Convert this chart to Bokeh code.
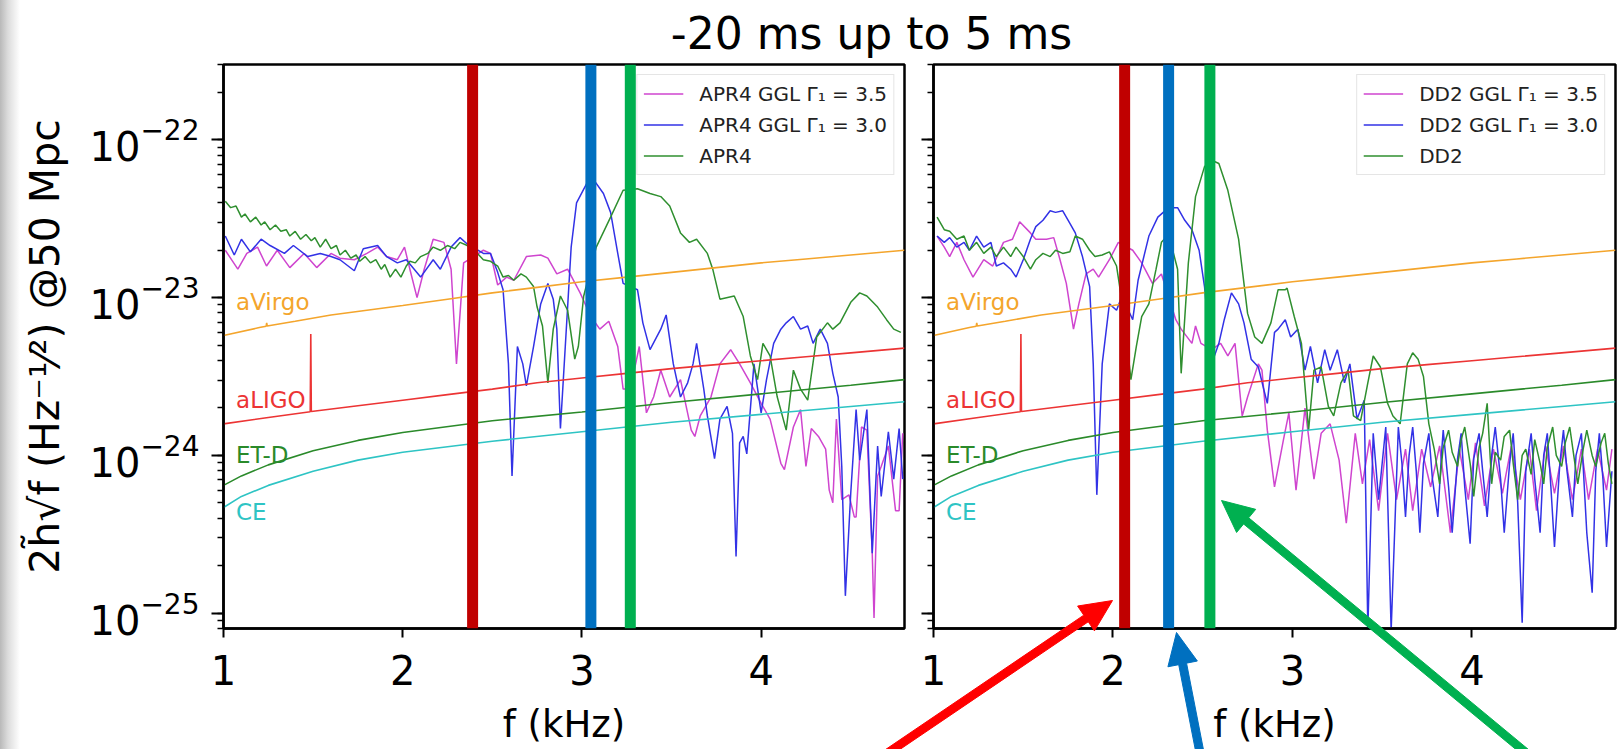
import math
from bokeh.plotting import figure
from bokeh.models import (Range1d, FixedTicker, LogTicker, Span, Legend, LegendItem, GridBox)
from bokeh.embed import file_html
from bokeh.resources import INLINE
from bokeh.core.properties import value

FONT = "DejaVu Sans"

# ---------------- data (frequency in kHz, log10 of 2*h*sqrt(f) at 50 Mpc) -------------
apr4_f = [1.01,1.04,1.07,1.10,1.12,1.15,1.18,1.21,1.23,1.26,1.29,1.32,1.35,1.37,1.40,1.43,1.46,1.49,1.51,1.54,
          1.57,1.60,1.63,1.65,1.68,1.71,1.74,1.76,1.79,1.82,1.85,1.88,1.90,1.93,1.96,1.99,2.02,2.04,2.07,2.10,
          2.14,2.17,2.21,2.25,2.29,2.32,2.36,2.40,2.45,2.49,2.53,2.56,2.59,2.62,2.66,2.69,2.73,2.75,2.78,2.81,
          2.84,2.88,2.92,2.96,2.98,3.01,3.08,3.16,3.23,3.31,3.38,3.44,3.49,3.55,3.60,3.64,3.70,3.73,3.77,3.85,
          3.90,3.94,3.98,4.01,4.05,4.09,4.14,4.18,4.22,4.26,4.31,4.37,4.40,4.44,4.50,4.55,4.59,4.65,4.70,4.74,4.78]
apr4_log10h = [-22.39,-22.43,-22.42,-22.49,-22.47,-22.52,-22.49,-22.54,-22.52,-22.57,-22.54,-22.58,-22.57,-22.61,-22.58,-22.63,-22.60,-22.64,-22.62,-22.68,
               -22.63,-22.69,-22.67,-22.73,-22.70,-22.75,-22.73,-22.77,-22.74,-22.78,-22.76,-22.82,-22.79,-22.87,-22.82,-22.87,-22.80,-22.77,-22.78,-22.74,
               -22.72,-22.68,-22.70,-22.67,-22.69,-22.65,-22.67,-22.70,-22.76,-22.77,-22.80,-22.87,-22.86,-22.89,-22.85,-22.87,-22.93,-23.06,-23.18,-23.54,
               -23.20,-22.99,-23.08,-23.39,-23.31,-22.99,-22.68,-22.49,-22.32,-22.31,-22.34,-22.36,-22.42,-22.59,-22.65,-22.63,-22.72,-22.82,-23.01,-22.99,
               -23.12,-23.37,-23.52,-23.29,-23.37,-23.63,-23.84,-23.46,-23.58,-23.65,-23.25,-23.16,-23.20,-23.16,-23.03,-22.97,-22.99,-23.06,-23.14,-23.20,-23.22]

apr4_g30_f = [1.01,1.06,1.10,1.15,1.21,1.26,1.34,1.39,1.47,1.54,1.60,1.65,1.73,1.78,1.86,1.91,1.97,2.02,2.10,2.17,
              2.21,2.27,2.32,2.36,2.45,2.49,2.53,2.56,2.59,2.61,2.64,2.67,2.69,2.73,2.77,2.81,2.84,2.86,2.88,2.94,
              2.97,3.03,3.07,3.12,3.16,3.20,3.23,3.27,3.31,3.34,3.38,3.44,3.47,3.51,3.55,3.59,3.62,3.64,3.68,3.70,
              3.74,3.77,3.81,3.84,3.86,3.88,3.90,3.92,3.96,4.00,4.03,4.07,4.11,4.14,4.18,4.22,4.26,4.29,4.33,4.37,
              4.40,4.43,4.45,4.47,4.50,4.53,4.55,4.59,4.62,4.65,4.67,4.71,4.74,4.77,4.79]
apr4_g30_log10h = [-22.61,-22.73,-22.63,-22.71,-22.63,-22.67,-22.72,-22.67,-22.74,-22.72,-22.74,-22.76,-22.83,-22.69,-22.67,-22.74,-22.78,-22.76,-22.87,-22.76,
                   -22.82,-22.68,-22.62,-22.66,-22.72,-22.72,-22.84,-22.95,-23.42,-24.13,-23.31,-23.42,-23.56,-23.31,-23.04,-22.91,-23.01,-23.20,-23.83,-22.68,
                   -22.40,-22.27,-22.26,-22.34,-22.46,-22.72,-22.91,-22.93,-22.95,-23.16,-23.33,-23.20,-23.11,-23.42,-23.63,-23.54,-23.42,-23.29,-23.58,-23.75,
                   -24.02,-23.77,-23.69,-23.86,-24.64,-23.92,-23.88,-23.99,-23.42,-23.73,-23.52,-23.29,-23.20,-23.16,-23.12,-23.20,-23.18,-23.29,-23.20,-23.29,
                   -23.48,-23.63,-24.07,-24.89,-24.24,-23.71,-24.03,-23.71,-24.62,-23.94,-24.26,-23.85,-24.15,-23.83,-24.15]

apr4_g35_f = [1.01,1.08,1.13,1.19,1.24,1.30,1.37,1.45,1.52,1.60,1.65,1.73,1.80,1.86,1.91,1.97,2.01,2.04,2.08,2.12,
              2.17,2.23,2.27,2.30,2.34,2.45,2.49,2.53,2.58,2.62,2.69,2.77,2.81,2.86,2.92,2.99,3.05,3.10,3.15,3.20,
              3.23,3.27,3.32,3.36,3.40,3.44,3.49,3.55,3.61,3.63,3.66,3.72,3.77,3.83,3.88,3.94,4.00,4.05,4.11,4.13,
              4.18,4.22,4.25,4.28,4.32,4.36,4.38,4.40,4.42,4.45,4.49,4.52,4.53,4.56,4.59,4.62,4.63,4.65,4.67,4.71,
              4.75,4.77,4.79]
apr4_g35_log10h = [-22.70,-22.82,-22.72,-22.68,-22.80,-22.70,-22.81,-22.72,-22.81,-22.72,-22.75,-22.76,-22.72,-22.68,-22.74,-22.76,-22.68,-22.82,-23.00,-22.82,
                   -22.63,-22.65,-22.82,-23.42,-22.78,-22.70,-22.72,-22.92,-22.87,-22.89,-22.74,-22.73,-22.75,-22.85,-22.82,-22.97,-23.12,-23.20,-23.15,-23.31,
                   -23.58,-23.58,-23.31,-23.73,-23.63,-23.46,-23.63,-23.52,-23.84,-23.88,-23.75,-23.63,-23.42,-23.33,-23.42,-23.54,-23.67,-23.77,-24.05,-24.09,
                   -23.82,-23.71,-24.07,-23.83,-23.88,-23.96,-24.22,-24.30,-23.77,-24.28,-24.25,-24.39,-24.39,-23.82,-23.84,-24.62,-25.03,-24.13,-24.07,-23.94,
                   -24.35,-24.35,-23.86]

dd2_f = [1.02,1.06,1.09,1.13,1.17,1.20,1.24,1.28,1.32,1.35,1.39,1.43,1.46,1.50,1.54,1.57,1.61,1.65,1.68,1.72,
         1.76,1.79,1.83,1.87,1.90,1.94,1.98,2.02,2.06,2.10,2.13,2.16,2.20,2.24,2.27,2.31,2.36,2.38,2.42,2.46,
         2.51,2.55,2.59,2.64,2.70,2.75,2.79,2.83,2.88,2.92,2.96,2.97,3.01,3.05,3.09,3.12,3.16,3.20,3.23,3.27,
         3.31,3.34,3.38,3.42,3.45,3.49,3.53,3.56,3.60,3.64,3.67,3.70,3.73,3.76,3.79,3.82,3.84,3.87,3.89,3.92,
         3.94,3.96,3.99,4.01,4.04,4.06,4.085,4.11,4.13,4.16,4.18,4.21,4.23,4.255,4.28,4.30,4.33,4.35,4.38,4.40,
         4.42,4.45,4.47,4.50,4.52,4.545,4.57,4.59,4.62,4.64,4.67,4.69,4.72,4.74,4.76,4.78]
dd2_log10h = [-22.49,-22.57,-22.58,-22.63,-22.61,-22.70,-22.65,-22.72,-22.68,-22.74,-22.68,-22.74,-22.68,-22.74,-22.82,-22.76,-22.72,-22.74,-22.70,-22.72,
              -22.71,-22.61,-22.63,-22.70,-22.74,-22.73,-22.71,-22.80,-23.10,-23.52,-23.31,-23.12,-23.04,-22.82,-22.65,-22.60,-22.82,-23.48,-22.78,-22.36,
              -22.17,-22.13,-22.15,-22.32,-22.63,-23.10,-23.25,-23.29,-23.16,-22.95,-22.95,-22.94,-23.12,-23.29,-23.84,-23.46,-23.44,-23.69,-23.75,-23.54,
              -23.46,-23.75,-23.78,-23.54,-23.37,-23.44,-23.67,-23.75,-23.80,-23.42,-23.35,-23.39,-23.50,-23.80,-23.96,-24.18,-23.95,-23.84,-23.98,-24.07,
              -23.90,-23.82,-24.05,-24.26,-23.95,-23.86,-23.67,-24.18,-23.98,-24.03,-23.88,-23.84,-24.05,-24.28,-24.00,-23.96,-24.12,-23.90,-24.05,-24.18,
              -23.95,-23.82,-24.00,-24.07,-23.92,-23.82,-24.02,-24.18,-23.96,-23.84,-24.00,-24.07,-23.92,-23.86,-24.05,-24.18]

dd2_g30_f = [1.02,1.06,1.09,1.13,1.17,1.20,1.24,1.28,1.32,1.35,1.39,1.43,1.46,1.50,1.54,1.57,1.61,1.65,1.68,1.72,
             1.76,1.79,1.83,1.87,1.89,1.91,1.94,1.98,2.02,2.05,2.11,2.14,2.20,2.25,2.31,2.36,2.40,2.44,2.48,2.51,
             2.55,2.59,2.62,2.66,2.70,2.73,2.77,2.81,2.84,2.86,2.90,2.92,2.96,2.99,3.03,3.07,3.10,3.14,3.18,3.21,
             3.25,3.29,3.32,3.36,3.40,3.42,3.45,3.48,3.50,3.52,3.55,3.59,3.61,3.63,3.65,3.67,3.69,3.71,3.73,3.76,
             3.78,3.81,3.83,3.84,3.87,3.89,3.92,3.94,3.96,3.99,4.01,4.04,4.06,4.085,4.11,4.13,4.16,4.18,4.21,4.23,
             4.255,4.28,4.30,4.33,4.35,4.38,4.40,4.42,4.44,4.46,4.49,4.51,4.53,4.56,4.58,4.61,4.64,4.67,4.69,4.71,
             4.73,4.75,4.78]
dd2_g30_log10h = [-22.61,-22.65,-22.62,-22.68,-22.65,-22.70,-22.61,-22.68,-22.65,-22.80,-22.78,-22.82,-22.87,-22.76,-22.63,-22.55,-22.51,-22.45,-22.46,-22.45,
                  -22.53,-22.59,-22.74,-22.93,-23.42,-24.25,-23.42,-23.04,-23.08,-22.99,-23.14,-22.89,-22.61,-22.49,-22.43,-22.43,-22.51,-22.57,-22.70,-22.93,
                  -23.42,-23.29,-23.14,-22.97,-23.04,-23.16,-23.39,-23.44,-23.58,-23.67,-23.22,-23.20,-23.14,-23.25,-23.20,-23.46,-23.31,-23.54,-23.33,-23.46,
                  -23.33,-23.54,-23.42,-23.77,-23.65,-25.10,-23.86,-24.28,-24.05,-23.82,-25.11,-23.82,-24.05,-24.39,-24.00,-23.82,-24.10,-24.49,-24.05,-23.86,
                  -24.15,-24.39,-24.00,-23.84,-24.20,-24.49,-24.02,-23.86,-24.20,-24.56,-24.02,-23.86,-24.10,-24.39,-24.00,-23.82,-24.15,-24.49,-24.05,-23.86,
                  -24.30,-25.06,-24.10,-23.86,-24.15,-24.49,-24.00,-23.86,-24.20,-24.58,-24.05,-23.84,-24.10,-24.39,-24.00,-23.86,-24.49,-24.87,-24.10,-23.86,
                  -24.15,-24.58,-24.10]

dd2_g35_f = [1.02,1.06,1.09,1.13,1.17,1.22,1.28,1.33,1.39,1.44,1.48,1.54,1.57,1.63,1.67,1.70,1.74,1.78,1.81,1.85,
             1.89,1.92,1.98,2.03,2.11,2.16,2.22,2.27,2.35,2.38,2.44,2.46,2.49,2.55,2.60,2.64,2.68,2.72,2.75,2.81,
             2.83,2.86,2.90,2.95,2.98,3.02,3.07,3.12,3.16,3.21,3.26,3.30,3.35,3.39,3.43,3.48,3.53,3.58,3.63,3.67,
             3.72,3.77,3.82,3.88,3.93,3.98,4.02,4.07,4.12,4.17,4.22,4.27,4.32,4.36,4.41,4.46,4.51,4.56,4.61,4.65,
             4.70,4.75,4.78]
dd2_g35_log10h = [-22.61,-22.68,-22.74,-22.65,-22.76,-22.87,-22.76,-22.80,-22.65,-22.63,-22.52,-22.59,-22.63,-22.63,-22.62,-22.74,-22.91,-23.20,-23.04,-22.85,
                  -22.82,-22.87,-22.76,-22.65,-22.70,-22.78,-22.91,-22.85,-23.14,-23.20,-23.29,-23.18,-23.29,-23.33,-23.29,-23.37,-23.29,-23.75,-23.63,-23.42,
                  -23.46,-23.84,-24.20,-23.90,-23.73,-24.22,-23.70,-24.15,-23.86,-23.80,-24.03,-24.43,-23.86,-24.18,-23.90,-24.35,-23.86,-24.28,-23.96,-24.35,
                  -23.96,-24.20,-23.94,-24.49,-23.96,-24.28,-23.92,-24.32,-23.96,-24.24,-23.94,-24.28,-23.96,-24.35,-23.94,-24.24,-23.94,-24.28,-23.96,-24.28,
                  -23.96,-24.22,-23.96]

# detector sensitivity curves
avirgo_f = [1.0, 1.2, 1.238, 1.241, 1.244, 1.4, 1.6, 1.8, 2.0, 2.25, 2.5, 2.75, 3.0, 3.25, 3.5, 3.75, 4.0, 4.25, 4.5, 4.8]
avirgo_log10h = [-23.24, -23.19, -23.181, -23.16, -23.180, -23.15, -23.11, -23.08, -23.05, -23.01, -22.97, -22.935, -22.90, -22.87, -22.84, -22.81, -22.78, -22.755, -22.73, -22.70]
aligo_f = [1.0, 1.25, 1.484, 1.487, 1.490, 1.75, 2.0, 2.25, 2.5, 2.75, 3.0, 3.25, 3.5, 3.75, 4.0, 4.25, 4.5, 4.8]
aligo_log10h = [-23.80, -23.76, -23.723, -23.23, -23.722, -23.685, -23.65, -23.615, -23.58, -23.54, -23.51, -23.48, -23.45, -23.425, -23.40, -23.375, -23.35, -23.32]
etd_f = [1.0, 1.1, 1.25, 1.5, 1.75, 2.0, 2.5, 3.0, 3.5, 4.0, 4.5, 4.8]
etd_log10h = [-24.19, -24.13, -24.06, -23.97, -23.905, -23.855, -23.78, -23.725, -23.665, -23.61, -23.555, -23.52]
ce_f = [1.0, 1.1, 1.25, 1.5, 1.75, 2.0, 2.5, 3.0, 3.5, 4.0, 4.5, 4.8]
ce_log10h = [-24.33, -24.26, -24.19, -24.10, -24.03, -23.98, -23.91, -23.85, -23.79, -23.74, -23.69, -23.66]

detector_names = ["aVirgo", "aLIGO", "ET-D", "CE"]
detector_label_f = [1.07, 1.07, 1.07, 1.07]
detector_label_log10h = [-23.03, -23.65, -24.00, -24.36]

apr4_labels = ["APR4 GGL Γ₁ = 3.5", "APR4 GGL Γ₁ = 3.0", "APR4"]
dd2_labels = ["DD2 GGL Γ₁ = 3.5", "DD2 GGL Γ₁ = 3.0", "DD2"]
apr4_markers_f = [2.39, 3.05, 3.27]
dd2_markers_f = [2.065, 2.31, 2.54]

x_ticks = [1, 2, 3, 4]
x_range = (1.0, 4.8)
y_range = (8e-26, 3e-22)

title_text = "-20 ms up to 5 ms"
xlabel = "f (kHz)"
ylabel = "2h̃√f (Hz⁻¹⁄²) @50 Mpc"

# ---------------- style ----------------
C_MAG = "#cf45cf"
C_BLUE = "#3232e6"
C_GREEN = "#2f8f2f"
C_VIRGO = "#f4a52c"
C_LIGO = "#ec3434"
C_ETD = "#2a8a2a"
C_CE = "#2ec4c4"
BAR_COLORS = ["#C00000", "#0070C0", "#00B050"]

W, H = 1617, 749
FRAME_TOP = 64
FRAME_BOTTOM = 628
P1_W, P1_LEFT, P1_RIGHT = 918, 223, 14
P2_W, P2_LEFT, P2_RIGHT = W - P1_W, 15, 2


def pw(vals):
    return [10 ** v for v in vals]


def make_panel(series, labels, markers, show_ylabel, width, border_left, border_right):
    p = figure(width=width, height=H, x_range=Range1d(*x_range), y_range=Range1d(*y_range),
               y_axis_type="log", output_backend="svg", toolbar_location=None,
               min_border_left=border_left, min_border_right=border_right,
               min_border_top=FRAME_TOP, min_border_bottom=H - FRAME_BOTTOM)
    p.xgrid.visible = False
    p.ygrid.visible = False
    p.outline_line_color = "black"
    p.outline_line_width = 2.5
    p.background_fill_color = "white"
    p.border_fill_color = "white"

    p.xaxis.ticker = FixedTicker(ticks=x_ticks)
    p.yaxis.ticker = LogTicker(num_minor_ticks=10)
    for ax in (p.xaxis[0], p.yaxis[0]):
        ax.axis_line_color = "black"
        ax.axis_line_width = 2.5
        ax.major_tick_line_color = "black"
        ax.major_tick_line_width = 2
        ax.minor_tick_line_color = "black"
        ax.minor_tick_line_width = 1.5
        ax.major_tick_in = 0
        ax.minor_tick_in = 0
        ax.major_label_text_font = FONT
        ax.major_label_text_color = "black"
        ax.axis_label_text_font = FONT
        ax.axis_label_text_font_style = "normal"
        ax.axis_label_text_color = "black"
    p.xaxis.major_tick_out = 9
    p.xaxis.minor_tick_line_color = None
    p.xaxis.major_label_text_font_size = "40px"
    p.xaxis.major_label_standoff = 17
    p.xaxis.axis_label = xlabel
    p.xaxis.axis_label_text_font_size = "37px"
    p.xaxis.axis_label_standoff = 15
    p.yaxis.major_tick_out = 12
    p.yaxis.minor_tick_out = 6
    if show_ylabel:
        p.yaxis.major_label_text_font_size = "40px"
        p.yaxis.major_label_standoff = 12
        p.yaxis.axis_label = ylabel
        p.yaxis.axis_label_text_font_size = "41px"
        p.yaxis.axis_label_standoff = 18
    else:
        p.yaxis.major_label_text_font_size = "2px"
        p.yaxis.major_label_text_color = None
        p.yaxis.major_label_standoff = 0

    colors = [C_MAG, C_BLUE, C_GREEN]
    items = []
    for (fx, ly), lab, col in zip(series, labels, colors):
        r = p.line(fx, pw(ly), line_color=col, line_width=1.5)
        items.append(LegendItem(label=lab, renderers=[r]))

    for fx, ly, col in [(avirgo_f, avirgo_log10h, C_VIRGO), (aligo_f, aligo_log10h, C_LIGO),
                        (etd_f, etd_log10h, C_ETD), (ce_f, ce_log10h, C_CE)]:
        p.line(fx, pw(ly), line_color=col, line_width=1.6)
    p.text(x=detector_label_f, y=pw(detector_label_log10h), text=detector_names,
           text_color=[C_VIRGO, C_LIGO, C_ETD, C_CE], text_font=value(FONT),
           text_font_size="23px", text_baseline="middle", text_align="left")

    legend = Legend(items=items, location="top_right", margin=10, padding=6, spacing=6,
                    glyph_width=40, glyph_height=25, label_standoff=16,
                    label_text_font=FONT, label_text_font_size="20px", label_text_color="#222222",
                    border_line_color="#cccccc", border_line_width=1.5,
                    background_fill_color="white", background_fill_alpha=0.85)
    p.add_layout(legend)

    for fx, col in zip(markers, BAR_COLORS):
        p.add_layout(Span(location=fx, dimension="height", line_color=col, line_width=11))
    return p


p1 = make_panel([(apr4_g35_f, apr4_g35_log10h), (apr4_g30_f, apr4_g30_log10h), (apr4_f, apr4_log10h)],
                apr4_labels, apr4_markers_f, True, P1_W, P1_LEFT, P1_RIGHT)
p2 = make_panel([(dd2_g35_f, dd2_g35_log10h), (dd2_g30_f, dd2_g30_log10h), (dd2_f, dd2_log10h)],
                dd2_labels, dd2_markers_f, False, P2_W, P2_LEFT, P2_RIGHT)
p1.border_fill_alpha = 0.0


# ---------------- transparent page-sized overlay: suptitle and pointer arrows ----------------
def arrow_outline(tail, tip, shaft=8.0, head_len=32.0, head_w=30.0):
    (x0, y0), (x1, y1) = tail, tip
    L = math.hypot(x1 - x0, y1 - y0)
    ux, uy = (x1 - x0) / L, (y1 - y0) / L
    nx, ny = -uy, ux
    bx, by = x1 - ux * head_len, y1 - uy * head_len
    s, h = shaft / 2, head_w / 2
    pts = [(x0 + nx * s, y0 + ny * s), (bx + nx * s, by + ny * s), (bx + nx * h, by + ny * h), (x1, y1),
           (bx - nx * h, by - ny * h), (bx - nx * s, by - ny * s), (x0 - nx * s, y0 - ny * s)]
    return [x for x, y in pts], [y for x, y in pts]


arrow_tails = [(876, 760), (1201, 760), (1535, 760)]
arrow_tips = [(1112, 600), (1176, 632), (1221, 500)]
arrow_colors = ["#FF0000", "#0070C0", "#00B050"]

ov = figure(width=W, height=H, x_range=Range1d(0, W), y_range=Range1d(H, 0),
            output_backend="svg", toolbar_location=None, frame_align=False,
            min_border=0, min_border_left=0, min_border_right=0, min_border_top=0, min_border_bottom=0)
ov.axis.visible = False
ov.xgrid.visible = False
ov.ygrid.visible = False
ov.outline_line_color = None
ov.background_fill_alpha = 0.0
ov.border_fill_alpha = 0.0
axs, ays = [], []
for tail, tip in zip(arrow_tails, arrow_tips):
    xs, ys = arrow_outline(tail, tip)
    axs.append(xs)
    ays.append(ys)
ov.patches(axs, ays, fill_color=arrow_colors, line_color=arrow_colors, line_width=1)
ov.text(x=[871], y=[33], text=[title_text], text_font=value(FONT), text_font_size="44px",
        text_color="black", text_align="center", text_baseline="middle")

layout = GridBox(children=[(p1, 0, 0), (p2, 0, 1), (ov, 0, 0, 1, 2)],
                 styles={"background": "linear-gradient(to right, #b9b9b9 0px, #dcdcdc 8px, #ffffff 20px)"})

open("out.html", "w").write(file_html(layout, INLINE))
